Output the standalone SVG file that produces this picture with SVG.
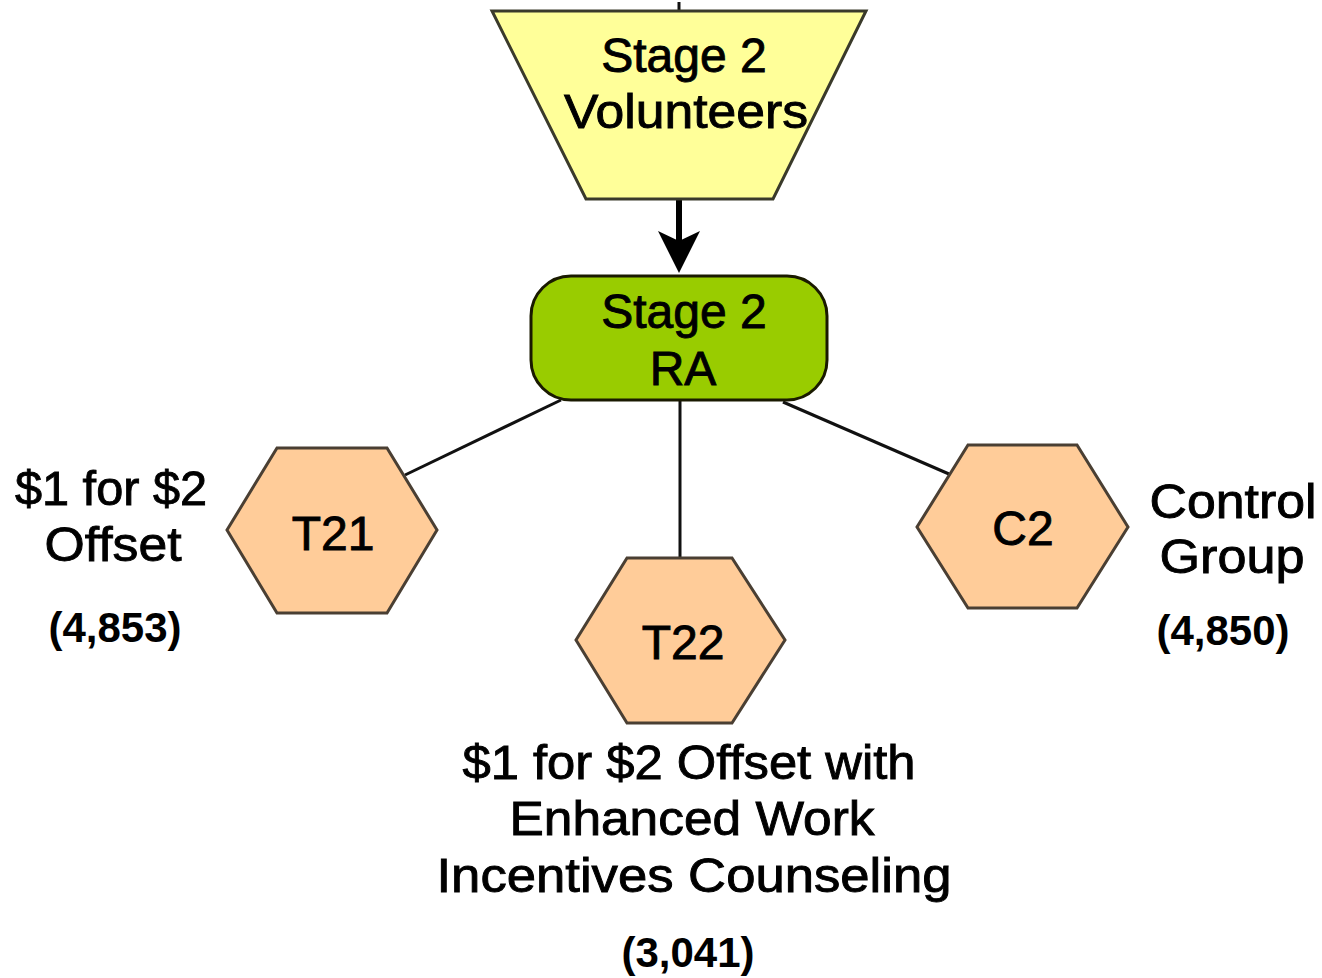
<svg xmlns="http://www.w3.org/2000/svg" width="1322" height="978" viewBox="0 0 1322 978">
<style>
.t{font-family:"Liberation Sans",Arial,sans-serif;font-size:48px;fill:#000;stroke:#000;stroke-width:0.9;text-anchor:middle}
.n{font-family:"Liberation Sans",Arial,sans-serif;font-size:42px;font-weight:bold;fill:#000;text-anchor:middle}
.hex{fill:#FFCC99;stroke:#4a3f33;stroke-width:3}
.c{stroke:#111;stroke-width:3;fill:none}
</style>
<defs>
<marker id="ah" markerUnits="userSpaceOnUse" markerWidth="46" markerHeight="46" refX="42" refY="22" orient="auto" viewBox="0 0 46 46">
<path d="M0,1 L42,22 L0,43 L10,22 Z" fill="#000"/>
</marker>
</defs>
<rect width="1322" height="978" fill="#fff"/>
<g id="connectors">
<line class="c" x1="679" y1="2" x2="679" y2="12"/>
<line x1="679" y1="200" x2="679" y2="262" stroke="#000" stroke-width="6"/>
<line x1="679" y1="240" x2="679" y2="273" stroke="none" marker-end="url(#ah)"/>
<line class="c" x1="561" y1="400" x2="405" y2="475"/>
<line class="c" x1="680" y1="400" x2="680" y2="558"/>
<line class="c" x1="783" y1="402" x2="949" y2="474"/>
</g>
<g id="volunteers">
<polygon points="492,11 866,11 773,199 586,199" fill="#FFFF99" stroke="#3a3a2a" stroke-width="3"/>
<text class="t" x="684" y="72">Stage 2</text>
<text class="t" x="686" y="128" textLength="244" lengthAdjust="spacingAndGlyphs">Volunteers</text>
</g>
<g id="ra">
<rect x="531" y="276" width="296" height="124" rx="40" ry="40" fill="#99CC00" stroke="#1a1a00" stroke-width="3"/>
<text class="t" x="684" y="328">Stage 2</text>
<text class="t" x="683" y="385">RA</text>
</g>
<g id="t21">
<polygon class="hex" points="277,448 387,448 437,530 387,613 277,613 227,530"/>
<text class="t" x="333" y="550">T21</text>
<text class="t" x="111" y="505" textLength="192" lengthAdjust="spacingAndGlyphs">$1 for $2</text>
<text class="t" x="113" y="561" textLength="137" lengthAdjust="spacingAndGlyphs">Offset</text>
<text class="n" x="115" y="642">(4,853)</text>
</g>
<g id="t22">
<polygon class="hex" points="627,558 732,558 785,640 732,723 627,723 576,640"/>
<text class="t" x="683" y="659">T22</text>
<text class="t" x="689" y="779" textLength="453" lengthAdjust="spacingAndGlyphs">$1 for $2 Offset with</text>
<text class="t" x="692" y="835" textLength="365" lengthAdjust="spacingAndGlyphs">Enhanced Work</text>
<text class="t" x="694" y="892" textLength="515" lengthAdjust="spacingAndGlyphs">Incentives Counseling</text>
<text class="n" x="688" y="967">(3,041)</text>
</g>
<g id="c2">
<polygon class="hex" points="968,445 1077,445 1128,527 1077,608 968,608 917,527"/>
<text class="t" x="1023" y="545">C2</text>
<text class="t" x="1233" y="518" textLength="167" lengthAdjust="spacingAndGlyphs">Control</text>
<text class="t" x="1232" y="573" textLength="145" lengthAdjust="spacingAndGlyphs">Group</text>
<text class="n" x="1223" y="645">(4,850)</text>
</g>
</svg>
